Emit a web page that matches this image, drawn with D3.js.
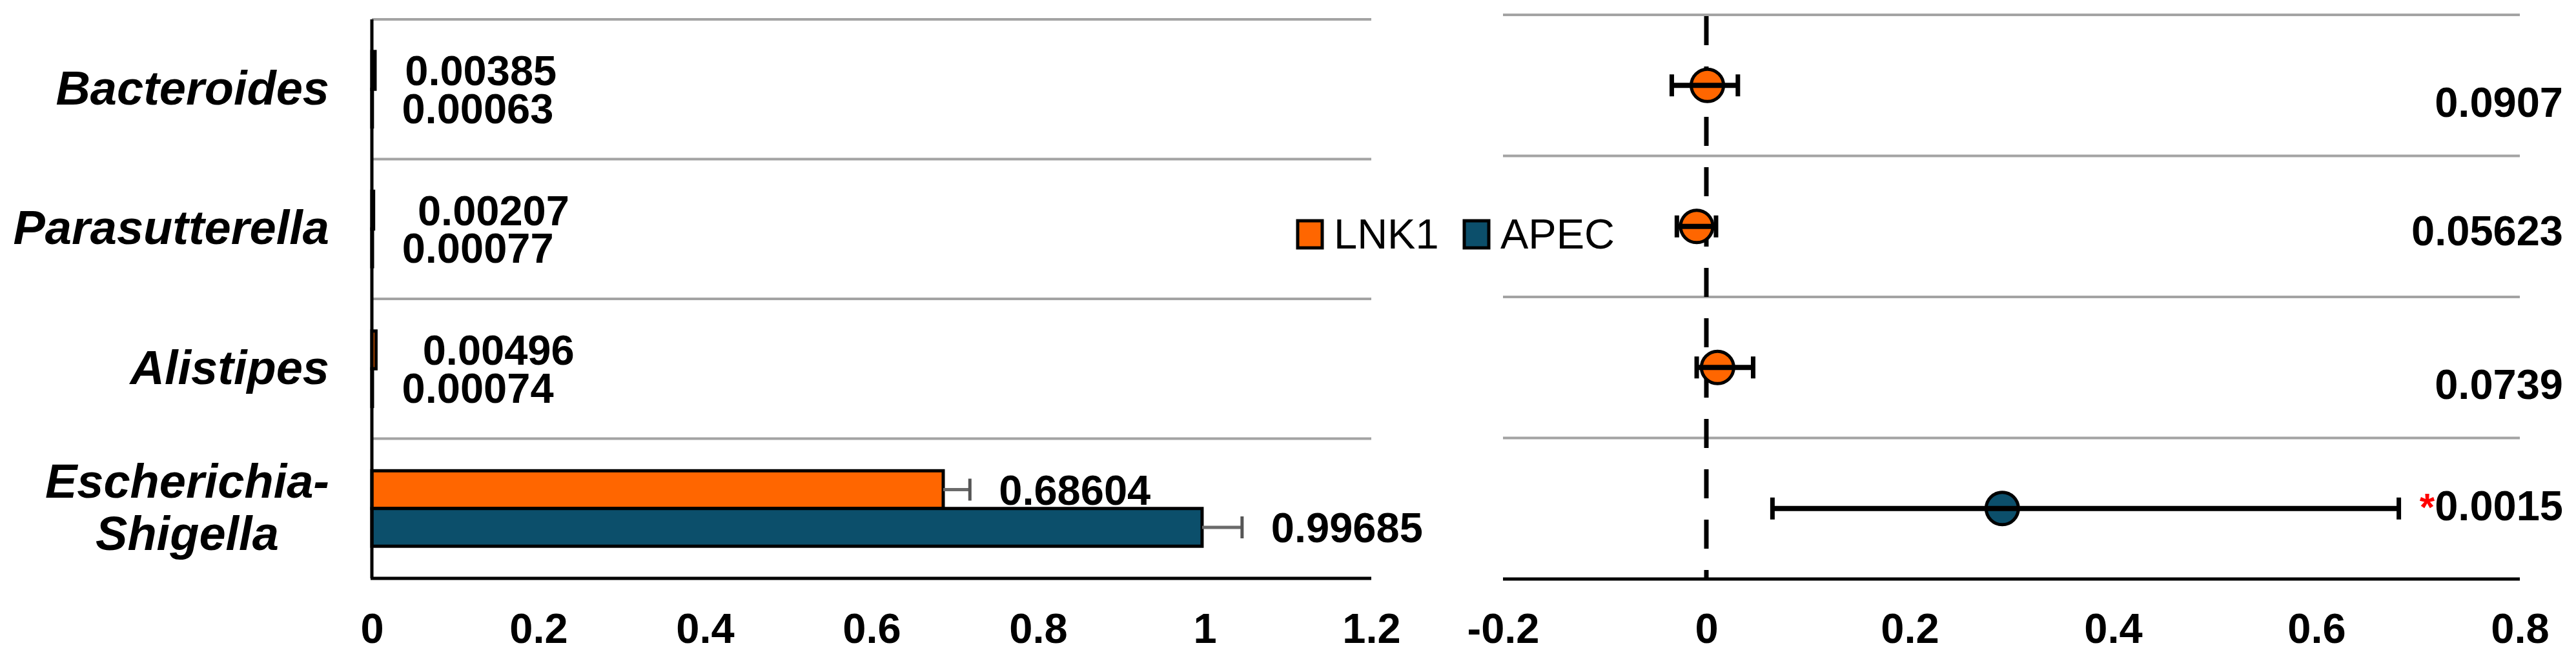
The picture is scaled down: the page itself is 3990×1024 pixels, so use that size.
<!DOCTYPE html>
<html>
<head>
<meta charset="utf-8">
<script src="https://cdn.jsdelivr.net/npm/d3@7"></script>
<style>
  html, body { margin: 0; padding: 0; background: #ffffff; }
  svg { display: block; }
</style>
</head>
<body>
<svg id="chart" width="3990" height="1024"></svg>
<script>
// ---------------- DATA ----------------
const categories = ["Bacteroides", "Parasutterella", "Alistipes", "Escherichia-Shigella"];
const seriesNames = ["LNK1", "APEC"];
const lnk1Mean = [0.00385, 0.00207, 0.00496, 0.68604];
const apecMean = [0.00063, 0.00077, 0.00074, 0.99685];
const lnk1Err = [0.001, 0.001, 0.001, 0.032];
const apecErr = [0.0005, 0.0005, 0.0005, 0.048];
const lnk1Labels = ["0.00385", "0.00207", "0.00496", "0.68604"];
const apecLabels = ["0.00063", "0.00077", "0.00074", "0.99685"];

const diffEstimate = [0.001, -0.0095, 0.011, 0.291];
const diffLow = [-0.034, -0.029, -0.0095, 0.065];
const diffHigh = [0.031, 0.0095, 0.046, 0.681];
const diffGroup = ["LNK1", "LNK1", "LNK1", "APEC"];
const pValueLabels = ["0.0907", "0.05623", "0.0739", "0.0015"];
const pSignificant = [false, false, false, true];

const leftTicks = [0, 0.2, 0.4, 0.6, 0.8, 1, 1.2];
const leftTickLabels = ["0", "0.2", "0.4", "0.6", "0.8", "1", "1.2"];
const rightTicks = [-0.2, 0, 0.2, 0.4, 0.6, 0.8];
const rightTickLabels = ["-0.2", "0", "0.2", "0.4", "0.6", "0.8"];

// ---------------- LAYOUT / STYLE ----------------
const colors = { LNK1: "#FF6600", APEC: "#0C4F6B" };
const gridColor = "#a3a3a3";
const numFont = "'Liberation Sans', Arial, sans-serif";
const lnk1LabelDx = [0, 22, 26, 0];
const apecLabelDx = [0, 0, 0, 0];
const pLabelDy = [25, 6, 25, -5];

const svg = d3.select("#chart");

// ---------------- LEFT PANEL (bars) ----------------
const L = { x0: 576, x1: 2124, top: 30, bottom: 896 };
const xL = d3.scaleLinear().domain([0, 1.2]).range([L.x0, L.x1]);
const yL = d3.scaleBand().domain(categories).range([L.top, L.bottom]).padding(0);
const yLsub = d3.scaleBand().domain(seriesNames)
  .range([yL.bandwidth() * 0.23, yL.bandwidth() * 0.77]).padding(0);

const left = svg.append("g");

// gridlines at band tops
left.selectAll("line.grid").data(categories).join("line")
  .attr("class", "grid")
  .attr("x1", L.x0).attr("x2", L.x1)
  .attr("y1", d => yL(d)).attr("y2", d => yL(d))
  .attr("stroke", gridColor).attr("stroke-width", 4);

const barData = [];
categories.forEach((c, i) => {
  barData.push({ cat: c, s: "LNK1", v: lnk1Mean[i], e: lnk1Err[i], lab: lnk1Labels[i], dx: lnk1LabelDx[i] });
  barData.push({ cat: c, s: "APEC", v: apecMean[i], e: apecErr[i], lab: apecLabels[i], dx: apecLabelDx[i] });
});

left.selectAll("rect.bar").data(barData).join("rect")
  .attr("class", "bar")
  .attr("x", xL(0))
  .attr("y", d => yL(d.cat) + yLsub(d.s))
  .attr("width", d => xL(d.v) - xL(0))
  .attr("height", yLsub.bandwidth())
  .attr("fill", d => colors[d.s])
  .attr("stroke", "#000").attr("stroke-width", 5);

// error whiskers (gray)
const errG = left.selectAll("g.err").data(barData.filter(d => d.v > 0.1)).join("g").attr("class", "err");
errG.append("line")
  .attr("x1", d => xL(d.v)).attr("x2", d => xL(d.v + d.e))
  .attr("y1", d => yL(d.cat) + yLsub(d.s) + yLsub.bandwidth() / 2)
  .attr("y2", d => yL(d.cat) + yLsub(d.s) + yLsub.bandwidth() / 2)
  .attr("stroke", "#6a6a6a").attr("stroke-width", 5);
errG.append("line")
  .attr("x1", d => xL(d.v + d.e)).attr("x2", d => xL(d.v + d.e))
  .attr("y1", d => yL(d.cat) + yLsub(d.s) + yLsub.bandwidth() / 2 - 17)
  .attr("y2", d => yL(d.cat) + yLsub(d.s) + yLsub.bandwidth() / 2 + 17)
  .attr("stroke", "#555").attr("stroke-width", 5);

// value labels
left.selectAll("text.val").data(barData).join("text")
  .attr("class", "val")
  .attr("x", d => xL(d.v + d.e) + 45 + d.dx)
  .attr("y", d => yL(d.cat) + yLsub(d.s) + yLsub.bandwidth() / 2)
  .attr("dy", "0.358em")
  .attr("font-family", numFont).attr("font-weight", "bold").attr("font-size", 65)
  .attr("fill", "#000")
  .text(d => d.lab);

// y axis line
left.append("line")
  .attr("x1", xL(0)).attr("x2", xL(0))
  .attr("y1", L.top).attr("y2", L.bottom)
  .attr("stroke", "#000").attr("stroke-width", 5);
// bottom axis line
left.append("line")
  .attr("x1", L.x0 - 2).attr("x2", L.x1)
  .attr("y1", L.bottom).attr("y2", L.bottom)
  .attr("stroke", "#000").attr("stroke-width", 5);

// category labels
const catG = left.selectAll("text.cat").data(categories).join("text")
  .attr("class", "cat")
  .attr("font-family", numFont).attr("font-weight", "bold").attr("font-style", "italic")
  .attr("font-size", 74).attr("fill", "#000");
catG.each(function (d) {
  const t = d3.select(this);
  const parts = d.includes("-") ? [d.slice(0, d.indexOf("-") + 1), d.slice(d.indexOf("-") + 1)] : [d];
  const cy = yL(d) + yL.bandwidth() / 2 - 3;
  const lh = 81;
  parts.forEach((p, k) => {
    t.append("tspan")
      .attr("y", cy + (k - (parts.length - 1) / 2) * lh)
      .attr("dy", "0.358em")
      .text(p);
  });
  const rightEdge = 510;
  if (parts.length === 1) {
    t.attr("text-anchor", "end");
    t.selectAll("tspan").attr("x", rightEdge);
  } else {
    t.attr("text-anchor", "middle");
    t.selectAll("tspan").attr("x", 0);
    let maxW = 0;
    t.selectAll("tspan").each(function () { maxW = Math.max(maxW, this.getComputedTextLength()); });
    t.selectAll("tspan").attr("x", rightEdge - maxW / 2);
  }
});

// x tick labels
const axL = left.append("g").attr("transform", "translate(0,973)")
  .call(d3.axisBottom(xL).tickValues(leftTicks).tickSize(0)
    .tickFormat((d, i) => leftTickLabels[i]));
axL.select(".domain").remove();
axL.selectAll("text").attr("y", 0).attr("dy", "0.358em")
  .attr("font-family", numFont).attr("font-weight", "bold").attr("font-size", 65).attr("fill", "#000");

// ---------------- RIGHT PANEL (difference CI) ----------------
const R = { x0: 2328, x1: 3903, top: 23, bottom: 897 };
const xR = d3.scaleLinear().domain([-0.2, 0.8]).range([R.x0, R.x1]);
const yR = d3.scaleBand().domain(categories).range([R.top, R.bottom]).padding(0);
const right = svg.append("g");

right.selectAll("line.grid").data(categories).join("line")
  .attr("class", "grid")
  .attr("x1", R.x0).attr("x2", R.x1)
  .attr("y1", d => yR(d)).attr("y2", d => yR(d))
  .attr("stroke", gridColor).attr("stroke-width", 4);

right.append("line")
  .attr("x1", R.x0).attr("x2", R.x1)
  .attr("y1", R.bottom).attr("y2", R.bottom)
  .attr("stroke", "#000").attr("stroke-width", 5);

// zero dashed line
right.append("line")
  .attr("x1", xR(0)).attr("x2", xR(0))
  .attr("y1", R.top + 2).attr("y2", R.bottom)
  .attr("stroke", "#000").attr("stroke-width", 7)
  .attr("stroke-dasharray", "45,33");

const ciData = categories.map((c, i) => ({
  cat: c, est: diffEstimate[i], lo: diffLow[i], hi: diffHigh[i], g: diffGroup[i],
  p: pValueLabels[i], sig: pSignificant[i], dy: pLabelDy[i]
}));
const cyR = d => yR(d.cat) + yR.bandwidth() / 2;

right.selectAll("circle.pt").data(ciData).join("circle")
  .attr("class", "pt")
  .attr("cx", d => xR(d.est)).attr("cy", cyR)
  .attr("r", 25)
  .attr("fill", d => colors[d.g])
  .attr("stroke", "#000").attr("stroke-width", 5);

const ciG = right.selectAll("g.ci").data(ciData).join("g").attr("class", "ci");
ciG.append("line")
  .attr("x1", d => xR(d.lo)).attr("x2", d => xR(d.hi))
  .attr("y1", cyR).attr("y2", cyR)
  .attr("stroke", "#000").attr("stroke-width", 8);
ciG.selectAll("line.cap").data(d => [{ x: d.lo, y: cyR(d) }, { x: d.hi, y: cyR(d) }]).join("line")
  .attr("class", "cap")
  .attr("x1", d => xR(d.x)).attr("x2", d => xR(d.x))
  .attr("y1", d => d.y - 17).attr("y2", d => d.y + 17)
  .attr("stroke", "#000").attr("stroke-width", 7);

// p-value labels
const pText = right.selectAll("text.p").data(ciData).join("text")
  .attr("class", "p")
  .attr("x", 3970)
  .attr("y", d => cyR(d) + d.dy)
  .attr("dy", "0.358em")
  .attr("text-anchor", "end")
  .attr("font-family", numFont).attr("font-weight", "bold").attr("font-size", 65)
  .attr("fill", "#000");
pText.each(function (d) {
  const t = d3.select(this);
  if (d.sig) t.append("tspan").attr("fill", "#ff0000").attr("font-size", 60).text("*");
  t.append("tspan").text(d.p);
});

const axR = right.append("g").attr("transform", "translate(0,973)")
  .call(d3.axisBottom(xR).tickValues(rightTicks).tickSize(0)
    .tickFormat((d, i) => rightTickLabels[i]));
axR.select(".domain").remove();
axR.selectAll("text").attr("y", 0).attr("dy", "0.358em")
  .attr("font-family", numFont).attr("font-weight", "bold").attr("font-size", 65).attr("fill", "#000");

// ---------------- LEGEND ----------------
const legend = svg.append("g");
const legX = [2010, 2268];
seriesNames.forEach((s, i) => {
  legend.append("rect")
    .attr("x", legX[i]).attr("y", 342)
    .attr("width", 38).attr("height", 42)
    .attr("fill", colors[s]).attr("stroke", "#000").attr("stroke-width", 5);
  legend.append("text")
    .attr("x", legX[i] + 56).attr("y", 385)
    .attr("font-family", numFont).attr("font-size", 65).attr("fill", "#000")
    .text(s);
});
</script>
</body>
</html>
